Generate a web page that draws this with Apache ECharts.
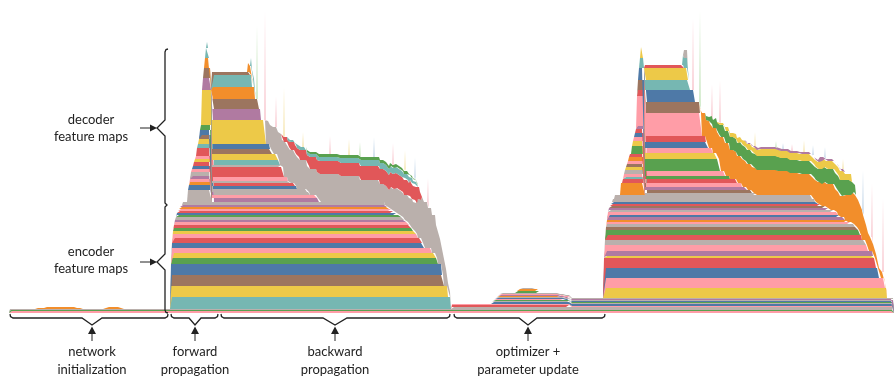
<!DOCTYPE html>
<html><head><meta charset="utf-8">
<script src="https://cdn.jsdelivr.net/npm/echarts@6/dist/echarts.min.js"></script>
<style>html,body{margin:0;padding:0;background:#fff}#c{width:896px;height:376px}</style>
</head><body><div id="c"></div>
<script>
// ---------- data (time steps on x, memory units on y) ----------
const T_MAX = 896;
const MEM_MAX = 313;

// interval allocations: [allocTime, freeTime, size]
const weights = [[10,894,2],[10,894,1],[10,894,1]];
const weightsColors = ['pink','green','grey'];

const initBumpA = [[36,1],[46,2],[76,1],[85,0]];
const initBumpB = [[104,1],[109,2],[121,1],[126,0]];

const enc1 = [[171,451,12],[171,448,11],[171,444,11],[171,442,11],[172,438,6],[172,436,5],[172,432,5],[172,424,5],
  [173,422,5],[173,418,4],[173,416,3],[174,413,3],[174,411,3],[175,409,3],[175,406,2],[176,404,3],[177,401,2],
  [177,398,2],[178,395,2],[179,392,2],[180,389,2],[181,387,2],[183,385,3]];
const enc1Colors = ['teal','yellow','brown','blue','green','yellow','pink','blue','red','pink','yellow','green','red',
  'pink','purple','grey','green','blue','red','pink','orange','purple','grey'];

const ramp1 = [[188,212,12],[189,212,5],[190,212,3],[190,212,3],[191,212,3],[191,212,4],[192,212,3],[193,212,3],
  [194,212,4],[195,212,3],[196,212,3],[197,212,8],[198,212,4],[199,212,5],[200,212,4],[200,212,5],[201,212,5],
  [202,212,35],[203,211,12],[204,211,10],[205,211,10],[206,209,10],[207,208,6]];
const ramp1Colors = ['grey','blue','orange','pink','purple','grey','pink','blue','red','yellow','pink','red','teal',
  'yellow','brown','blue','green','yellow','purple','brown','orange','teal','teal'];

const wide1 = [[212,319,4],[212,317,3],[212,310,3],[212,307,3],[212,297,3],[212,295,3],[212,290,2],[212,288,4],
  [212,284,10],[212,282,2],[212,280,5],[212,278,6],[212,272,5],[212,270,5],[212,266,24],[212,261,11],[212,259,10],
  [212,255,12],[212,252,12],[212,250,3]];
const wide1Colors = ['purple','pink','grey','grey','blue','red','grey','pink','red','grey','teal','yellow','brown',
  'blue','yellow','purple','brown','orange','teal','brown'];

const extras1 = [[248,254,9],[251,256,8]];
const extras1Colors = ['orange','teal'];

// gradient buffers: [time, size] held until next entry
const grey1 = [[266,23],[270,24],[272,27],[278,28],[280,31],[282,27],[284,35],[288,34],[290,33],[295,32],[300,29],
  [307,26],[319,28],[340,26],[360,22],[380,18],[385,19],[390,22],[395,25],[405,27],[410,29],[415,31],[418,39],
  [420,38],[422,46],[428,40],[432,38],[436,33],[438,32],[440,25],[442,26],[444,27],[446,17],[448,14],[450,5],[451,0]];
const red1 = [[282,4],[284,5],[288,6],[290,8],[295,9],[300,10],[307,11],[310,12],[319,13],[360,14],[380,15],
  [410,16],[418,12],[420,8],[422,0]];
const teal1 = [[288,2],[297,3],[317,4],[340,5],[360,6],[410,5],[418,0]];
const green1 = [[307,2],[317,3],[410,2],[418,0]];

const opt = [[452,894,2],[452,570,2],[452,894,1],[492,894,2],[493,894,1],[494,894,1],[495,565,1],[496,894,1],
  [497,894,1],[498,560,1],[499,894,1],[500,572,1],[501,894,1],[516,541,2],[518,539,2],[521,536,1]];
const optColors = ['grey','red','pink','blue','grey','green','pink','blue','grey','orange','purple','pink','grey',
  'green','orange','grey'];

const enc2 = [[604,887,10],[604,885,10],[604,879,10],[604,876,10],[605,874,2],[605,873,5],[605,868,6],[605,866,5],
  [606,862,5],[606,860,5],[606,858,3],[607,855,3],[607,852,2],[607,848,2],[608,845,3],[608,840,2],[608,838,3],
  [609,835,2],[609,830,2],[610,826,2],[611,822,2],[612,818,2],[613,815,3],[615,812,4]];
const enc2Colors = ['yellow','pink','blue','red','yellow','purple','pink','grey','red','green','brown','grey','pink',
  'orange','purple','blue','pink','grey','purple','brown','red','blue','grey','grey'];

const ramp2 = [[621,645,12],[623,645,4],[624,645,2],[624,645,3],[625,645,4],[626,645,3],[627,645,3],[628,645,3],
  [629,645,4],[630,645,3],[632,645,8],[633,645,5],[634,645,4],[635,645,4],[636,645,4],[637,645,3],[637,645,30],
  [638,645,6],[638,645,10],[639,645,12],[640,644,10],[641,643,11]];
const ramp2Colors = ['orange','red','teal','pink','grey','yellow','brown','pink','orange','red','green','yellow',
  'pink','blue','red','purple','pink','red','brown','blue','teal','yellow'];

const wide2 = [[645,757,2],[645,752,3],[645,747,3],[645,742,4],[645,737,4],[645,730,3],[645,725,5],[645,720,12],
  [645,717,6],[645,713,5],[645,708,6],[645,706,6],[645,702,23],[645,700,11],[645,695,12],[645,690,10],
  [645,688,12],[645,684,3]];
const wide2Colors = ['grey','brown','purple','pink','red','green','pink','green','yellow','pink','blue','red','pink',
  'brown','blue','teal','yellow','red'];

const extras2 = [[683,689,10],[684,688,8]];
const extras2Colors = ['teal','grey'];

const orange2 = [[700,4],[702,23],[706,22],[708,27],[710,24],[713,25],[717,27],[718,25],[720,34],[725,33],[730,29],
  [735,27],[742,28],[745,26],[755,25],[777,24],[790,22],[800,21],[812,22],[823,24],[830,26],[835,23],[840,21],
  [845,25],[847,27],[852,32],[858,30],[863,25],[866,20],[868,18],[870,14],[873,12],[876,14],[879,10],[882,6],
  [885,5],[887,0]];
const green2 = [[706,4],[710,8],[715,10],[720,12],[730,13],[740,14],[780,13],[820,15],[835,16],[845,15],[852,10],[856,0]];
const yellow2 = [[718,2],[725,4],[735,5],[745,6],[760,7],[820,8],[835,9],[845,6],[852,0]];
const purple2 = [[745,1],[755,2],[846,0]];

// short-lived allocations: [time, size]
const spikesPink = [[265,110],[276,31],[330,18],[393,22],[428,30],[693,72],[712,32],[720,43],[792,7],[872,54],[883,74]];
const spikesGreen = [[257,74],[360,15],[700,99],[776,6]];
const spikesYellow = [[284,50],[303,15],[349,16],[405,19],[755,14],[804,12],[843,10]];
const spikesBlue = [[374,20],[415,20],[783,6],[813,10],[825,10],[852,10],[863,45]];

// ---------- styles ----------
const PALETTE = {blue:'#4E79A7', orange:'#F28E2B', red:'#E15759', teal:'#76B7B2', green:'#59A14F', yellow:'#EDC948',
  purple:'#B07AA1', pink:'#FF9DA7', brown:'#9C755F', grey:'#BAB0AC',
  ltpink:'#FAD3D9', ltgreen:'#D3EBCC', ltyellow:'#F8EBC0', ltblue:'#D2E0EE'};

// ---------- build series ----------
const xs = []; for (let x = 0; x <= T_MAX; x++) xs.push(x);
const series = [];
// outside an allocation's lifetime the value is left empty (null), so no zero-height slivers are drawn
function addArea(name, color, valueAt) {
  const vals = xs.map(x => valueAt(x));
  const data = vals.map((v, i) => v !== 0 ? v : ((i > 0 && vals[i - 1]) || (i < T_MAX && vals[i + 1]) ? 0 : null));
  series.push({
    name, type:'line', stack:'mem', symbol:'none', showSymbol:false, silent:true, animation:false,
    connectNulls:false, lineStyle:{width:0, opacity:0}, areaStyle:{color:color, opacity:1}, itemStyle:{color:color},
    data
  });
}
function addBands(group, bands, colors) {
  bands.forEach((b, i) => addArea(group + i, PALETTE[colors[i]], x => (x >= b[0] && x < b[1]) ? b[2] : 0));
}
function addSteps(name, steps, color) {
  addArea(name, PALETTE[color], x => { let v = 0; for (const s of steps) { if (x >= s[0]) v = s[1]; else break; } return v; });
}
function addSpikes(name, spikes, color) {
  addArea(name, PALETTE[color], x => { const s = spikes.find(p => p[0] === x); return s ? s[1] : 0; });
}

addBands('w', weights, weightsColors);
addSteps('initA', initBumpA, 'orange');
addSteps('initB', initBumpB, 'orange');
addBands('e1_', enc1, enc1Colors);
addBands('r1_', ramp1, ramp1Colors);
addBands('d1_', wide1, wide1Colors);
addBands('x1_', extras1, extras1Colors);
addSteps('grey1', grey1, 'grey');
addSteps('red1', red1, 'red');
addSteps('teal1', teal1, 'teal');
addSteps('green1', green1, 'green');
addBands('o_', opt, optColors);
addBands('e2_', enc2, enc2Colors);
addBands('r2_', ramp2, ramp2Colors);
addBands('d2_', wide2, wide2Colors);
addBands('x2_', extras2, extras2Colors);
addSteps('orange2', orange2, 'orange');
addSteps('green2', green2, 'green');
addSteps('yellow2', yellow2, 'yellow');
addSteps('purple2', purple2, 'purple');
addSpikes('spP', spikesPink, 'ltpink');
addSpikes('spG', spikesGreen, 'ltgreen');
addSpikes('spY', spikesYellow, 'ltyellow');
addSpikes('spB', spikesBlue, 'ltblue');

// ---------- annotations ----------
const INK = '#222';
const FONT = '13px Lato';
const g = [];
function line(points, w) { g.push({type:'polyline', silent:true, z:100, shape:{points}, style:{stroke:INK, lineWidth:w || 1.3, fill:null}}); }
function tri(points) { g.push({type:'polygon', silent:true, z:100, shape:{points}, style:{fill:INK}}); }
function label(text, x, y) { g.push({type:'text', silent:true, z:100, x, y, style:{text, font:FONT, fill:INK, align:'center', verticalAlign:'middle', textAlign:'center', textVerticalAlign:'middle'}}); }
function brace(x0, x1, xc, hw) {
  line([[x0,314],[x0+0.5,316.5],[x0+3,318],[xc-hw,318],[xc,325],[xc+hw,318],[x1-3,318],[x1-0.5,316.5],[x1,314]]);
  tri([[xc,326.5],[xc-4,334],[xc+4,334]]);
  line([[xc,334],[xc,341]], 1);
}
brace(10, 168, 92, 10);
brace(171, 218, 195, 6);
brace(221, 450, 335, 12);
brace(454, 605, 528, 9);
label('network', 92, 352); label('initialization', 92, 370);
label('forward', 195, 352); label('propagation', 195, 370);
label('backward', 335, 352); label('propagation', 335, 370);
label('optimizer +', 528, 352); label('parameter update', 528, 370);
// vertical brace on the left
line([[168,49],[166,49.5],[165,52],[165,120],[157,128],[165,136],[165,203],[167,205],[165,207],[165,254],[157,262],[165,270],[165,310],[166,312.5],[168,313]]);
line([[140,128],[151,128]], 1); tri([[157,128],[150,124.5],[150,131.5]]);
line([[140,262],[151,262]], 1); tri([[157,262],[150,258.5],[150,265.5]]);
label('decoder', 91, 120); label('feature maps', 91, 137);
label('encoder', 91, 252); label('feature maps', 91, 269);

const chart = echarts.init(document.getElementById('c'), null, {renderer:'canvas'});
chart.setOption({
  animation:false,
  backgroundColor:'#ffffff',
  grid:{left:0, right:0, top:0, bottom:376 - MEM_MAX, containLabel:false},
  xAxis:{type:'category', data:xs, boundaryGap:false, show:false},
  yAxis:{type:'value', min:0, max:MEM_MAX, show:false},
  tooltip:{show:false},
  series,
  graphic:g
});
</script>
</body></html>
